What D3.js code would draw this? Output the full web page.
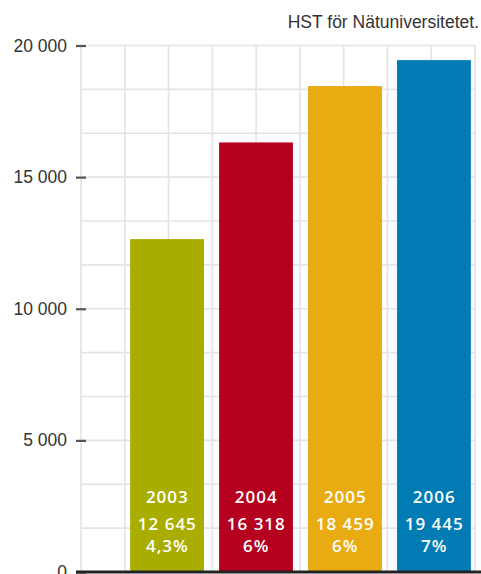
<!DOCTYPE html>
<html><head><meta charset="utf-8">
<script src="https://cdn.jsdelivr.net/npm/d3@7/dist/d3.min.js"></script>
<style>
html,body{margin:0;padding:0;background:#fff;}
svg{display:block;}
</style></head>
<body>
<script>
const years = ["2003","2004","2005","2006"];
const values = [12645, 16318, 18459, 19445];
const valueLabels = ["12 645","16 318","18 459","19 445"];
const shareLabels = ["4,3%","6%","6%","7%"];
const colors = ["#a8ad00","#b5001f","#e8ab12","#007bb3"];
const yTicks = [0, 5000, 10000, 15000, 20000];
const yTickLabels = ["0","5 000","10 000","15 000","20 000"];
const title = "HST för Nätuniversitetet.";

const W = 481, H = 574;
const svg = d3.select("body").append("svg").attr("width", W).attr("height", H);

const plotLeft = 81, plotRight = 475;
const y = d3.scaleLinear().domain([0, 20000]).range([572, 45.5]);
const x = d3.scaleBand().domain(years).range([123, 478]).paddingInner(0.17).paddingOuter(0.08);

// grid
const cell = (y(0) - y(20000)) / 12;
const gridY = d3.range(0, 20001, 20000/12);
const nCols = Math.round((plotRight - plotLeft) / cell);
const gridX = d3.range(0, nCols + 1).map(i => plotLeft + i * (plotRight - plotLeft) / nCols);
const grid = svg.append("g").attr("stroke", "#e4e4e4").attr("stroke-width", 1.7);
grid.selectAll("line.h").data(gridY).join("line").attr("class","h")
  .attr("x1", plotLeft).attr("x2", plotRight).attr("y1", d => y(d)).attr("y2", d => y(d));
grid.selectAll("line.v").data(gridX).join("line").attr("class","v")
  .attr("x1", d => d).attr("x2", d => d).attr("y1", y(20000)).attr("y2", y(0));

// bars
svg.append("g").selectAll("rect").data(years).join("rect")
  .attr("x", d => x(d)).attr("width", x.bandwidth())
  .attr("y", (d,i) => y(values[i])).attr("height", (d,i) => y(0) - y(values[i]))
  .attr("fill", (d,i) => colors[i]);

// labels in bars
const lab = svg.append("g").attr("fill", "#fff").attr("text-anchor", "middle")
  .attr("font-family", "'Open Sans', 'Noto Sans', sans-serif")
  .attr("font-weight", 600).attr("font-size", 17).attr("letter-spacing", 1);
const cx = d => x(d) + x.bandwidth()/2 + 0.3;
lab.selectAll("text.yr").data(years).join("text").attr("class","yr")
  .attr("x", cx).attr("y", 503).text(d => d);
lab.selectAll("text.val").data(years).join("text").attr("class","val")
  .attr("x", cx).attr("y", 530).text((d,i) => valueLabels[i]);
lab.selectAll("text.pct").data(years).join("text").attr("class","pct")
  .attr("x", cx).attr("y", 552).text((d,i) => shareLabels[i]);

// y axis
const axis = d3.axisLeft(y).tickValues(yTicks).tickSize(10).tickPadding(9)
  .tickFormat((d,i) => yTickLabels[i]);
const ga = svg.append("g").attr("transform", `translate(86,0)`).call(axis);
ga.select(".domain").remove();
ga.selectAll(".tick line").attr("stroke", "#555").attr("stroke-width", 2.2);
ga.selectAll(".tick text").attr("fill", "#333").attr("font-size", 17.5)
  .attr("font-family", "'Liberation Sans', Arial, sans-serif");

// baseline
svg.append("line").attr("x1", 76).attr("x2", W).attr("y1", y(0)).attr("y2", y(0))
  .attr("stroke", "#222").attr("stroke-width", 3);

// title
svg.append("text").attr("x", 479).attr("y", 27.5).attr("text-anchor", "end")
  .attr("fill", "#333").attr("font-size", 17.5)
  .attr("font-family", "'Liberation Sans', Arial, sans-serif").text(title);
</script>
</body></html>
